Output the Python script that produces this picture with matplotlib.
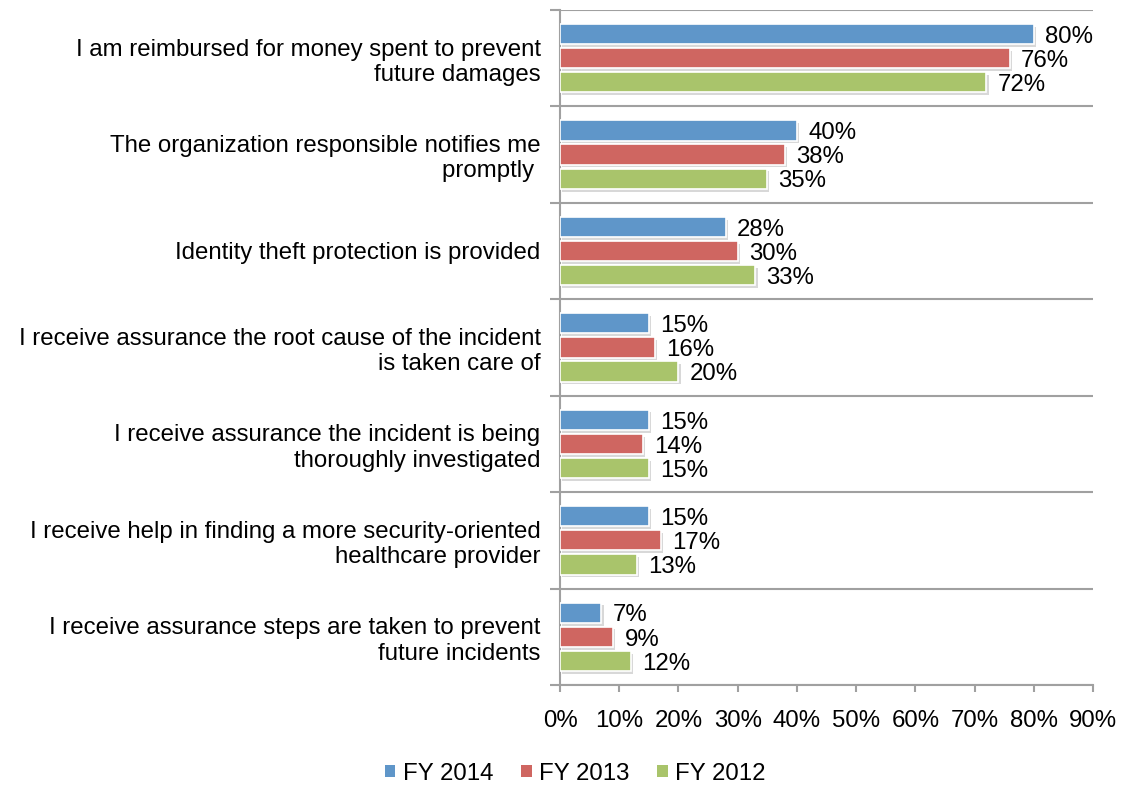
import matplotlib.pyplot as plt
import matplotlib.patheffects as pe
from matplotlib.patches import Patch
import numpy as np

plt.rcParams["font.family"] = ["Liberation Sans", "DejaVu Sans"]

# =========================
# Data
# =========================
categories = [
    "I am reimbursed for money spent to prevent\nfuture damages",
    "The organization responsible notifies me\npromptly ",
    "Identity theft protection is provided",
    "I receive assurance the root cause of the incident\nis taken care of",
    "I receive assurance the incident is being\nthoroughly investigated",
    "I receive help in finding a more security-oriented\nhealthcare provider",
    "I receive assurance steps are taken to prevent\nfuture incidents",
]
fy2014 = [80, 40, 28, 15, 15, 15, 7]
fy2013 = [76, 38, 30, 16, 14, 17, 9]
fy2012 = [72, 35, 33, 20, 15, 13, 12]

series = [("FY 2014", fy2014, "#5F96C9"),
          ("FY 2013", fy2013, "#CF6661"),
          ("FY 2012", fy2012, "#A9C46B")]

FS = 17.3

# =========================
# Figure
# =========================
fig = plt.figure(figsize=(11.23, 7.85), dpi=100)
ax = fig.add_axes([0.4987, 0.1274, 0.4746, 0.86])

y = np.arange(len(categories))
pitch = 0.25
height = 0.21
shadow = [pe.SimplePatchShadow(offset=(1.5, -2), shadow_rgbFace="#909090", alpha=0.35), pe.Normal()]

handles = []
for i, (name, vals, color) in enumerate(series):
    ypos = y + (i - 1) * pitch
    bars = ax.barh(ypos, vals, height=height, color=color, edgecolor="white",
                   linewidth=1.2, zorder=3)
    for b in bars:
        b.set_path_effects(shadow)
    for yy, v in zip(ypos, vals):
        ax.annotate(f"{v}%", (v, yy), xytext=(8, -2), textcoords="offset points",
                    ha="left", va="center", fontsize=FS, zorder=4)
    handles.append(Patch(facecolor=color, edgecolor="none", label=name))

ax.set_xlim(0, 90)
ax.set_ylim(len(categories) - 0.5, -0.5)
ax.set_xticks(np.arange(0, 91, 10))
ax.set_xticklabels([f"{t}%" for t in range(0, 91, 10)], fontsize=FS)

# boundaries as major ticks (grid + tick marks), labels on minor ticks
ax.set_yticks(np.arange(-0.5, len(categories), 1))
ax.set_yticklabels([])
ax.set_yticks(y, minor=True)
ax.set_yticklabels(categories, minor=True, fontsize=FS)
ax.tick_params(axis="y", which="minor", length=0, pad=14)
ax.tick_params(axis="y", which="major", length=7, color="#A0A0A0", width=1.5)
ax.tick_params(axis="x", length=5, color="#A0A0A0", width=1.5, pad=13)
ax.grid(axis="y", which="major", color="#A0A0A0", linewidth=1.5, zorder=0)

for side in ["top", "right"]:
    ax.spines[side].set_visible(False)
for side in ["left", "bottom"]:
    ax.spines[side].set_color("#A0A0A0")
    ax.spines[side].set_linewidth(1.5)

fig.legend(handles=handles, loc="lower center", bbox_to_anchor=(0.512, -0.027), ncol=3,
           frameon=False, fontsize=FS, handlelength=0.45, handleheight=0.45,
           handletextpad=0.3, columnspacing=1.15)

fig.savefig("out.png", dpi=100)
